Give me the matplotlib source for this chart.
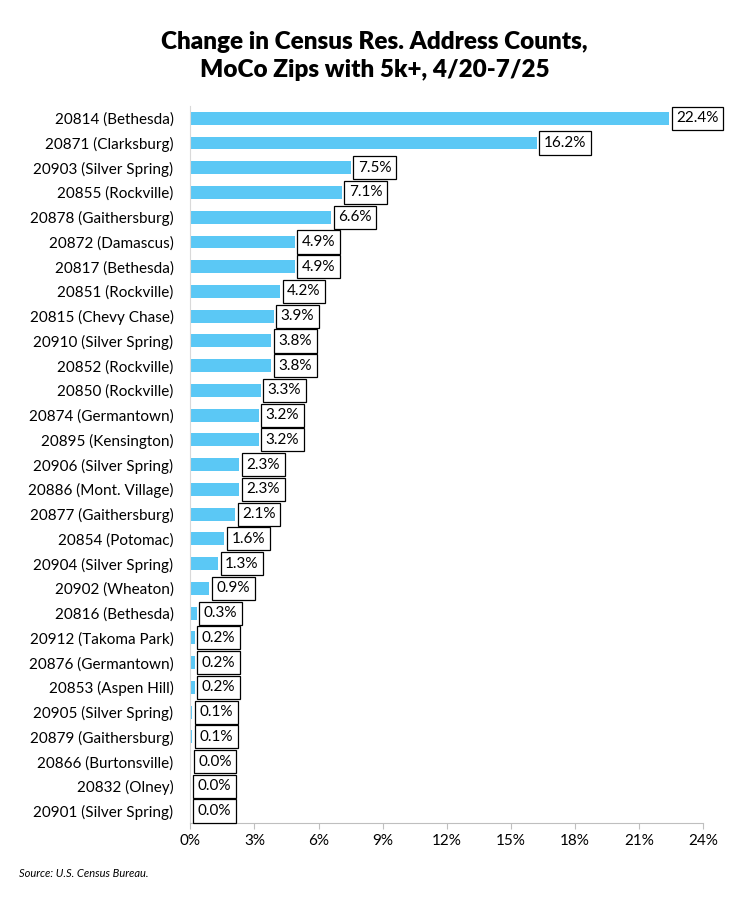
import matplotlib.pyplot as plt
import numpy as np

plt.rcParams['font.family'] = ['Lato', 'DejaVu Sans']

zips = ["20814 (Bethesda)", "20871 (Clarksburg)", "20903 (Silver Spring)", "20855 (Rockville)",
        "20878 (Gaithersburg)", "20872 (Damascus)", "20817 (Bethesda)", "20851 (Rockville)",
        "20815 (Chevy Chase)", "20910 (Silver Spring)", "20852 (Rockville)", "20850 (Rockville)",
        "20874 (Germantown)", "20895 (Kensington)", "20906 (Silver Spring)", "20886 (Mont. Village)",
        "20877 (Gaithersburg)", "20854 (Potomac)", "20904 (Silver Spring)", "20902 (Wheaton)",
        "20816 (Bethesda)", "20912 (Takoma Park)", "20876 (Germantown)", "20853 (Aspen Hill)",
        "20905 (Silver Spring)", "20879 (Gaithersburg)", "20866 (Burtonsville)", "20832 (Olney)",
        "20901 (Silver Spring)"]
change = [22.4, 16.2, 7.5, 7.1, 6.6, 4.9, 4.9, 4.2, 3.9, 3.8, 3.8, 3.3, 3.2, 3.2, 2.3, 2.3,
          2.1, 1.6, 1.3, 0.9, 0.3, 0.2, 0.2, 0.2, 0.1, 0.1, 0.04, 0.03, 0.02]
shown = [22.4, 16.2, 7.5, 7.1, 6.6, 4.9, 4.9, 4.2, 3.9, 3.8, 3.8, 3.3, 3.2, 3.2, 2.3, 2.3,
         2.1, 1.6, 1.3, 0.9, 0.3, 0.2, 0.2, 0.2, 0.1, 0.1, 0.0, 0.0, 0.0]

fig = plt.figure(figsize=(7.49, 8.97), dpi=100)
ax = fig.add_axes([0.254, 0.082, 0.685, 0.8])
y = np.arange(len(zips))
ax.barh(y, change, height=0.52, color='#5BC8F5')
ax.set_ylim(len(zips) - 0.5, -0.5)
ax.set_xlim(0, 24)
ax.set_yticks(y)
ax.set_yticklabels(zips, fontsize=11)
ax.set_xticks(np.arange(0, 25, 3))
ax.set_xticklabels([f"{t}%" for t in range(0, 25, 3)], fontsize=11)
ax.tick_params(axis='y', length=0, pad=12)
ax.tick_params(axis='x', length=4, color='#bfbfbf')
for s in ['top', 'right']:
    ax.spines[s].set_visible(False)
ax.spines['left'].set_color('#d9d9d9')
ax.spines['bottom'].set_color('#bfbfbf')

for yi, v, s in zip(y, change, shown):
    ax.text(v + 0.33, yi, f"{s:.1f}%", va='center', ha='left', fontsize=11,
            bbox=dict(boxstyle='square,pad=0.3', fc='white', ec='black', lw=0.9))

fig.text(0.5, 0.965, "Change in Census Res. Address Counts,\nMoCo Zips with 5k+, 4/20-7/25",
         ha='center', va='top', fontsize=17.5, fontweight='heavy', linespacing=1.3)
fig.text(0.025, 0.022, "Source: U.S. Census Bureau.", fontsize=8, style='italic')
fig.savefig('out.png', dpi=100)
